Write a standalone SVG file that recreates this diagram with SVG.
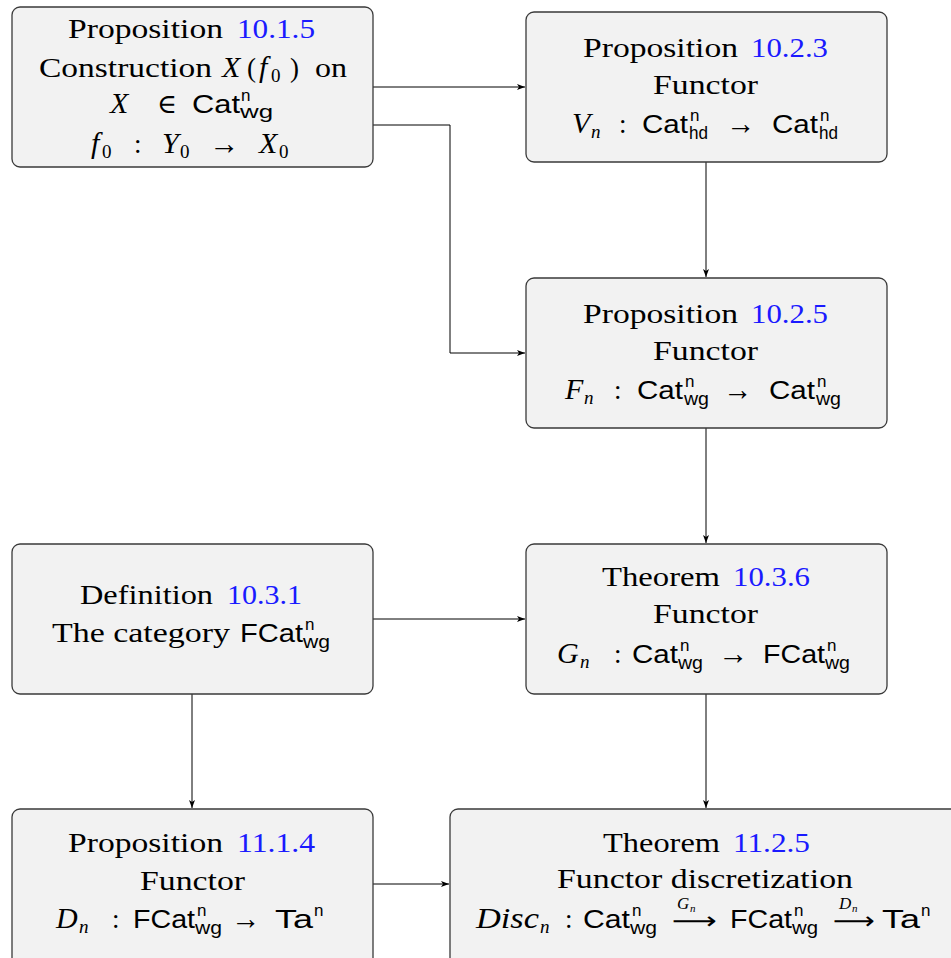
<svg xmlns="http://www.w3.org/2000/svg" width="951" height="958" viewBox="0 0 951 958">
<style>
.box{fill:#f2f2f2;stroke:#3a3a3a;stroke-width:1.3}
.rm{font-family:"Liberation Serif","DejaVu Serif",serif;font-size:27px;fill:#000}
.it{font-family:"Liberation Serif","DejaVu Serif",serif;font-size:30px;font-style:italic;fill:#000}
.ss{font-family:"Liberation Sans","DejaVu Sans",sans-serif;font-size:26px;fill:#000}
.sub{font-family:"Liberation Sans","DejaVu Sans",sans-serif;font-size:18px;fill:#000}
.sup{font-family:"Liberation Sans","DejaVu Sans",sans-serif;font-size:17px;fill:#000}
.isub{font-family:"Liberation Serif",serif;font-size:19px;font-style:italic;fill:#000}
.nsub{font-family:"Liberation Serif",serif;font-size:19px;fill:#000}
.arr{font-family:"Liberation Serif",serif;font-size:32px;fill:#000}
.lab{font-family:"Liberation Serif",serif;font-size:17px;font-style:italic;fill:#000}
.labs{font-family:"Liberation Serif",serif;font-size:11px;font-style:italic;fill:#000}
.lar{font-family:"DejaVu Sans",sans-serif;font-size:24px;fill:#000}
.ref{fill:#1a1aff}
.edge{fill:none;stroke:#000;stroke-width:1}
</style>
<defs>
<marker id="ah" markerUnits="userSpaceOnUse" markerWidth="10" markerHeight="8" refX="8" refY="3" orient="auto">
<path d="M0,0 L8,3 L0,6 L2,3 z" fill="#000"/>
</marker>
</defs>

<g id="connectors">
<path class="edge" d="M373 87 H525" marker-end="url(#ah)"/>
<path class="edge" d="M373 125 H450 V353 H525" marker-end="url(#ah)"/>
<path class="edge" d="M706 162 V277" marker-end="url(#ah)"/>
<path class="edge" d="M706 428 V543" marker-end="url(#ah)"/>
<path class="edge" d="M373 619 H525" marker-end="url(#ah)"/>
<path class="edge" d="M192 694 V808" marker-end="url(#ah)"/>
<path class="edge" d="M706 694 V808" marker-end="url(#ah)"/>
<path class="edge" d="M373 884 H449" marker-end="url(#ah)"/>
</g>

<g id="n1">
<rect class="box" x="12" y="7" width="361" height="160" rx="8"/>
<text class="rm" x="68" y="38" textLength="155" lengthAdjust="spacingAndGlyphs">Proposition</text>
<text class="rm ref" x="237" y="38" textLength="78" lengthAdjust="spacingAndGlyphs">10.1.5</text>
<text class="rm" x="39" y="77" textLength="173" lengthAdjust="spacingAndGlyphs">Construction</text>
<text class="it" x="222" y="77">X</text>
<text class="rm" x="247" y="77">(</text>
<text class="it" x="259" y="77">f</text>
<text class="nsub" x="271" y="82">0</text>
<text class="rm" x="290" y="77">)</text>
<text class="rm" x="315" y="77" textLength="32" lengthAdjust="spacingAndGlyphs">on</text>
<text class="it" x="110" y="113">X</text>
<text class="rm" x="157" y="113">∈</text>
<text class="ss" x="192" y="113" textLength="48" lengthAdjust="spacingAndGlyphs">Cat</text>
<text class="sup" x="241" y="101">n</text>
<text class="sub" x="240" y="118" textLength="33" lengthAdjust="spacingAndGlyphs">wg</text>
<text class="it" x="91" y="153">f</text>
<text class="nsub" x="102" y="158">0</text>
<text class="rm" x="134" y="153">:</text>
<text class="it" x="162" y="153">Y</text>
<text class="nsub" x="180" y="158">0</text>
<text class="arr" x="209" y="154" textLength="30" lengthAdjust="spacingAndGlyphs">→</text>
<text class="it" x="259" y="153">X</text>
<text class="nsub" x="279" y="158">0</text>
</g>

<g id="n2">
<rect class="box" x="526" y="12" width="361" height="150" rx="8"/>
<text class="rm" x="583" y="57" textLength="155" lengthAdjust="spacingAndGlyphs">Proposition</text>
<text class="rm ref" x="751" y="57" textLength="77" lengthAdjust="spacingAndGlyphs">10.2.3</text>
<text class="rm" x="653" y="94" textLength="105" lengthAdjust="spacingAndGlyphs">Functor</text>
<text class="it" x="572" y="133">V</text>
<text class="isub" x="591" y="138">n</text>
<text class="rm" x="619" y="133">:</text>
<text class="ss" x="642" y="133" textLength="46" lengthAdjust="spacingAndGlyphs">Cat</text>
<text class="sup" x="690" y="121">n</text>
<text class="sub" x="689" y="139" textLength="19" lengthAdjust="spacingAndGlyphs">hd</text>
<text class="arr" x="726" y="134" textLength="29" lengthAdjust="spacingAndGlyphs">→</text>
<text class="ss" x="772" y="133" textLength="46" lengthAdjust="spacingAndGlyphs">Cat</text>
<text class="sup" x="820" y="121">n</text>
<text class="sub" x="819" y="139" textLength="19" lengthAdjust="spacingAndGlyphs">hd</text>
</g>

<g id="n3">
<rect class="box" x="526" y="278" width="361" height="150" rx="8"/>
<text class="rm" x="583" y="323" textLength="155" lengthAdjust="spacingAndGlyphs">Proposition</text>
<text class="rm ref" x="751" y="323" textLength="77" lengthAdjust="spacingAndGlyphs">10.2.5</text>
<text class="rm" x="653" y="360" textLength="105" lengthAdjust="spacingAndGlyphs">Functor</text>
<text class="it" x="565" y="399">F</text>
<text class="isub" x="584" y="404">n</text>
<text class="rm" x="614" y="399">:</text>
<text class="ss" x="637" y="399" textLength="46" lengthAdjust="spacingAndGlyphs">Cat</text>
<text class="sup" x="685" y="387">n</text>
<text class="sub" x="684" y="405" textLength="25" lengthAdjust="spacingAndGlyphs">wg</text>
<text class="arr" x="723" y="400" textLength="29" lengthAdjust="spacingAndGlyphs">→</text>
<text class="ss" x="769" y="399" textLength="46" lengthAdjust="spacingAndGlyphs">Cat</text>
<text class="sup" x="817" y="387">n</text>
<text class="sub" x="816" y="405" textLength="25" lengthAdjust="spacingAndGlyphs">wg</text>
</g>

<g id="n4">
<rect class="box" x="12" y="544" width="361" height="150" rx="8"/>
<text class="rm" x="80" y="604" textLength="133" lengthAdjust="spacingAndGlyphs">Definition</text>
<text class="rm ref" x="227" y="604" textLength="75" lengthAdjust="spacingAndGlyphs">10.3.1</text>
<text class="rm" x="52" y="642" textLength="178" lengthAdjust="spacingAndGlyphs">The category</text>
<text class="ss" x="240" y="642" textLength="63" lengthAdjust="spacingAndGlyphs">FCat</text>
<text class="sup" x="305" y="630">n</text>
<text class="sub" x="303" y="648" textLength="27" lengthAdjust="spacingAndGlyphs">wg</text>
</g>

<g id="n5">
<rect class="box" x="526" y="544" width="361" height="150" rx="8"/>
<text class="rm" x="602" y="586" textLength="118" lengthAdjust="spacingAndGlyphs">Theorem</text>
<text class="rm ref" x="733" y="586" textLength="77" lengthAdjust="spacingAndGlyphs">10.3.6</text>
<text class="rm" x="653" y="623" textLength="105" lengthAdjust="spacingAndGlyphs">Functor</text>
<text class="it" x="557" y="663">G</text>
<text class="isub" x="580" y="668">n</text>
<text class="rm" x="614" y="663">:</text>
<text class="ss" x="632" y="663" textLength="46" lengthAdjust="spacingAndGlyphs">Cat</text>
<text class="sup" x="680" y="651">n</text>
<text class="sub" x="678" y="669" textLength="25" lengthAdjust="spacingAndGlyphs">wg</text>
<text class="arr" x="718" y="664" textLength="30" lengthAdjust="spacingAndGlyphs">→</text>
<text class="ss" x="763" y="663" textLength="62" lengthAdjust="spacingAndGlyphs">FCat</text>
<text class="sup" x="827" y="651">n</text>
<text class="sub" x="825" y="669" textLength="25" lengthAdjust="spacingAndGlyphs">wg</text>
</g>

<g id="n6">
<rect class="box" x="12" y="809" width="361" height="160" rx="8"/>
<text class="rm" x="68" y="852" textLength="155" lengthAdjust="spacingAndGlyphs">Proposition</text>
<text class="rm ref" x="237" y="852" textLength="78" lengthAdjust="spacingAndGlyphs">11.1.4</text>
<text class="rm" x="140" y="890" textLength="105" lengthAdjust="spacingAndGlyphs">Functor</text>
<text class="it" x="56" y="928">D</text>
<text class="isub" x="79" y="933">n</text>
<text class="rm" x="112" y="928">:</text>
<text class="ss" x="133" y="928" textLength="62" lengthAdjust="spacingAndGlyphs">FCat</text>
<text class="sup" x="197" y="916">n</text>
<text class="sub" x="195" y="934" textLength="27" lengthAdjust="spacingAndGlyphs">wg</text>
<text class="arr" x="231" y="929" textLength="29" lengthAdjust="spacingAndGlyphs">→</text>
<text class="ss" x="275" y="928" textLength="38" lengthAdjust="spacingAndGlyphs">Ta</text>
<text class="sup" x="314" y="916">n</text>
</g>

<g id="n7">
<rect class="box" x="450" y="809" width="520" height="160" rx="8"/>
<text class="rm" x="603" y="852" textLength="117" lengthAdjust="spacingAndGlyphs">Theorem</text>
<text class="rm ref" x="733" y="852" textLength="77" lengthAdjust="spacingAndGlyphs">11.2.5</text>
<text class="rm" x="557" y="888" textLength="296" lengthAdjust="spacingAndGlyphs">Functor discretization</text>
<text class="it" x="476" y="928" textLength="63" lengthAdjust="spacingAndGlyphs">Disc</text>
<text class="isub" x="540" y="933">n</text>
<text class="rm" x="565" y="928">:</text>
<text class="ss" x="583" y="928" textLength="47" lengthAdjust="spacingAndGlyphs">Cat</text>
<text class="sup" x="632" y="916">n</text>
<text class="sub" x="630" y="934" textLength="27" lengthAdjust="spacingAndGlyphs">wg</text>
<text class="lar" x="672" y="929" textLength="45" lengthAdjust="spacingAndGlyphs">⟶</text>
<text class="lab" x="677" y="909">G</text>
<text class="labs" x="690" y="912">n</text>
<text class="ss" x="730" y="928" textLength="62" lengthAdjust="spacingAndGlyphs">FCat</text>
<text class="sup" x="794" y="916">n</text>
<text class="sub" x="792" y="934" textLength="26" lengthAdjust="spacingAndGlyphs">wg</text>
<text class="lar" x="833" y="929" textLength="42" lengthAdjust="spacingAndGlyphs">⟶</text>
<text class="lab" x="839" y="909">D</text>
<text class="labs" x="852" y="912">n</text>
<text class="ss" x="882" y="928" textLength="38" lengthAdjust="spacingAndGlyphs">Ta</text>
<text class="sup" x="921" y="916">n</text>
</g>
</svg>
